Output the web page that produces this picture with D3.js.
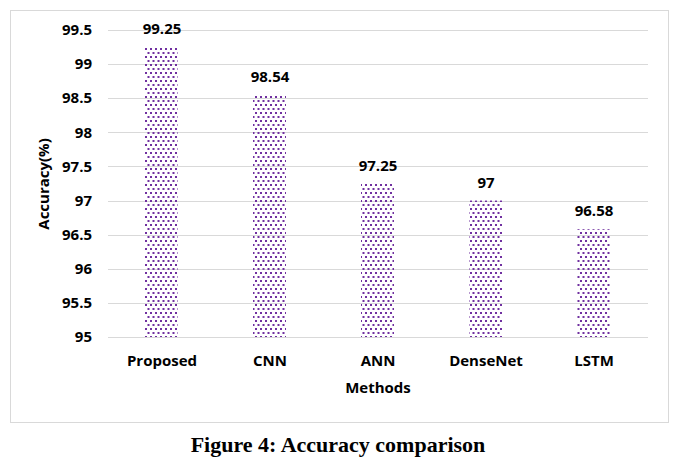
<!DOCTYPE html>
<html>
<head>
<meta charset="utf-8">
<script src="https://cdn.jsdelivr.net/npm/d3@7"></script>
<style>
  body { margin: 0; background: #fff; }
  svg { display: block; }
  text { font-family: "Open Sans", "DejaVu Sans", sans-serif; font-weight: bold; fill: #000; }
</style>
</head>
<body>
<svg width="677" height="465"></svg>
<script>
const width = 677;
const height = 465;

const methods = ["Proposed", "CNN", "ANN", "DenseNet", "LSTM"];
const accuracy = [99.25, 98.54, 97.25, 97, 96.58];
const valueLabels = ["99.25", "98.54", "97.25", "97", "96.58"];
const yTicks = [95, 95.5, 96, 96.5, 97, 97.5, 98, 98.5, 99, 99.5];

const svg = d3.select("svg");

// pattern fill: staggered purple dots
const defs = svg.append("defs");
const pat = defs.append("pattern")
  .attr("id", "dots")
  .attr("patternUnits", "userSpaceOnUse")
  .attr("width", 5)
  .attr("height", 8);
pat.append("rect").attr("x", 0).attr("y", 0).attr("width", 2).attr("height", 2).attr("fill", "#7030a0");
pat.append("rect").attr("x", 2.5).attr("y", 4).attr("width", 2).attr("height", 2).attr("fill", "#7030a0");

// chart border
svg.append("rect")
  .attr("x", 10.5).attr("y", 10.5)
  .attr("width", 658).attr("height", 412)
  .attr("fill", "none")
  .attr("stroke", "#d9d9d9");

const x = d3.scaleBand()
  .domain(methods)
  .range([108, 648])
  .paddingInner(0.69)
  .paddingOuter(0.345);

const y = d3.scaleLinear()
  .domain([95, 99.5])
  .range([337, 30]);

// gridlines
svg.append("g")
  .selectAll("line")
  .data(yTicks)
  .join("line")
  .attr("x1", 108).attr("x2", 648)
  .attr("y1", d => Math.round(y(d)) + 0.5)
  .attr("y2", d => Math.round(y(d)) + 0.5)
  .attr("stroke", "#d9d9d9");

// y tick labels
svg.append("g")
  .selectAll("text")
  .data(yTicks)
  .join("text")
  .attr("x", 92)
  .attr("y", d => y(d))
  .attr("dy", "0.35em")
  .attr("text-anchor", "end")
  .style("font-size", "15px")
  .text(d => d);

// bars
svg.append("g")
  .selectAll("rect")
  .data(methods)
  .join("rect")
  .attr("x", d => Math.round(x(d)))
  .attr("width", Math.round(x.bandwidth()))
  .attr("y", (d, i) => y(accuracy[i]))
  .attr("height", (d, i) => y(95) - y(accuracy[i]))
  .attr("fill", "url(#dots)");

// value labels
svg.append("g")
  .selectAll("text")
  .data(methods)
  .join("text")
  .attr("x", d => x(d) + x.bandwidth() / 2)
  .attr("y", (d, i) => y(accuracy[i]) - 13)
  .attr("text-anchor", "middle")
  .style("font-size", "15px")
  .text((d, i) => valueLabels[i]);

// x category labels
svg.append("g")
  .selectAll("text")
  .data(methods)
  .join("text")
  .attr("x", d => x(d) + x.bandwidth() / 2)
  .attr("y", 366)
  .attr("text-anchor", "middle")
  .style("font-size", "15px")
  .text(d => d);

// axis titles
svg.append("text")
  .attr("x", 378)
  .attr("y", 393)
  .attr("text-anchor", "middle")
  .style("font-size", "15px")
  .text("Methods");

svg.append("text")
  .attr("transform", "translate(49,184) rotate(-90)")
  .attr("text-anchor", "middle")
  .style("font-size", "15px")
  .text("Accuracy(%)");

// caption
svg.append("text")
  .attr("x", 338)
  .attr("y", 452)
  .attr("text-anchor", "middle")
  .style("font-family", "'Liberation Serif', 'Times New Roman', serif")
  .style("font-size", "22px")
  .text("Figure 4: Accuracy comparison");
</script>
</body>
</html>
